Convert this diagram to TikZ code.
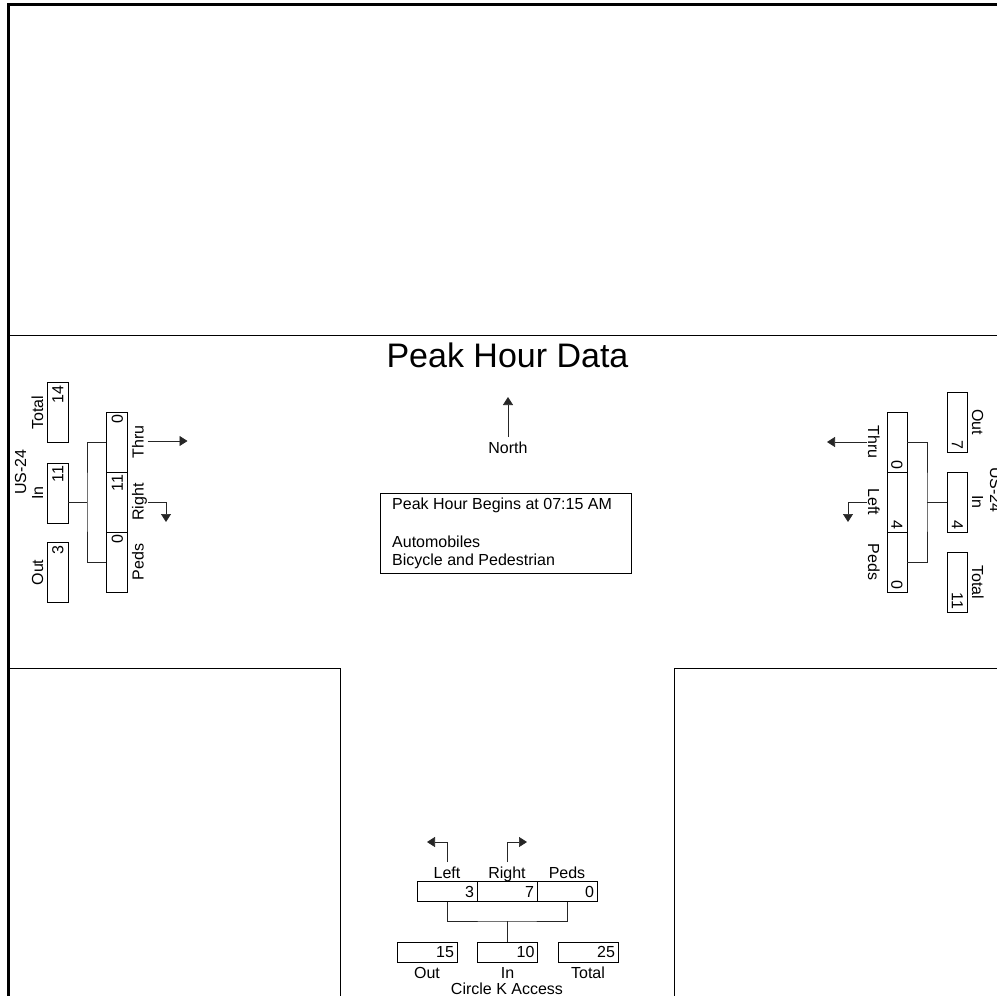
\documentclass[tikz,border=0pt]{standalone}
\usepackage{fontspec}
\setmainfont{Liberation Sans}
\usetikzlibrary{arrows.meta}
\tikzset{
  frame/.style={line width=2.7pt},
  road/.style={line width=0.9pt},
  conn/.style={line width=0.7pt, draw=black!85},
  arr/.style={conn, -{Triangle[width=10pt,length=8pt]}},
  cell/.style={draw, line width=0.7pt, inner sep=0pt, minimum width=60pt, minimum height=20pt,
    text width=54pt, align=right, font=\fontsize{16}{16}\selectfont, text height=11.5pt, text depth=0pt},
  lcell/.style={cell, rotate=90, minimum height=21pt},
  rcell/.style={cell, rotate=-90},
  lbl/.style={inner sep=0pt, anchor=base, font=\fontsize{16}{19}\selectfont},
  llbl/.style={lbl, rotate=90},
  rlbl/.style={lbl, rotate=-90},
}
\begin{document}
\begin{tikzpicture}[x=1pt,y=-1pt]
\useasboundingbox (0,0) rectangle (997,996);
% frame and road edges
\draw[frame] (8.7,996) -- (8.7,4.7) -- (997,4.7);
\draw[road] (8.7,335) -- (997,335);
\draw[road] (8.7,668) -- (340.5,668) -- (340.5,996);
\draw[road] (997,668) -- (674,668) -- (674,996);
% title and north arrow
\node[lbl, font=\fontsize{34}{34}\selectfont] (title) at (507.5,367) {Peak Hour Data};
\node[lbl] (north) at (508,453) {North};
\coordinate (nS) at (508,437);
\draw[arr] (nS) -- ++(0,-40);
% info box
\node[draw, line width=0.7pt, minimum width=251pt, minimum height=80pt, inner sep=0pt, anchor=north west] (info) at (380,493) {};
\node[lbl, anchor=base west] (info1) at (392,509) {Peak Hour Begins at 07:15 AM};
\node[lbl, anchor=base west] (info2) at (392,547) {Automobiles};
\node[lbl, anchor=base west] (info3) at (392,565) {Bicycle and Pedestrian};
% ---------------- left approach ----------------
\node[lcell] (lTot) at (57.5,412.5) {14};
\node[lcell] (lIn) at (57.5,493) {11};
\node[lcell] (lOut) at (57.5,572.5) {3};
\node[llbl] (lTotL) at (43,412.5) {Total};
\node[llbl] (lInL) at (43,493) {In};
\node[llbl] (lOutL) at (43,572.5) {Out};
\node[llbl] (lName) at (26,472) {US-24};
\node[lcell] (lThru) at (117,442) {0};
\node[lcell] (lRight) at (117,502) {11};
\node[lcell] (lPeds) at (117,562) {0};
\node[llbl] (lThruL) at (143.5,442) {Thru};
\node[llbl] (lRightL) at (143.5,502) {Right};
\node[llbl] (lPedsL) at (143.5,562) {Peds};
\coordinate (lmid) at (87,502);
\draw[conn] (lThru.north) -| (lmid) |- (lPeds.north);
\draw[conn] (lmid) -- (lmid -| lIn.south);
\coordinate (lThruA) at (147.5,441);
\coordinate (lRightA) at (148,502);
\draw[arr] (lThruA) -- ++(40,0);
\draw[arr] (lRightA) -| ++(18,20);
% ---------------- right approach ----------------
\node[rcell] (rOut) at (957.5,422) {7};
\node[rcell] (rIn) at (957.5,502) {4};
\node[rcell] (rTot) at (957.5,582) {11};
\node[rlbl] (rOutL) at (972,422) {Out};
\node[rlbl] (rInL) at (972,502) {In};
\node[rlbl] (rTotL) at (972,582) {Total};
\node[rlbl] (rName) at (990,490) {US-24};
\node[rcell] (rThru) at (897,442) {0};
\node[rcell] (rLeft) at (897,502) {4};
\node[rcell] (rPeds) at (897,562) {0};
\node[rlbl] (rThruL) at (868,442) {Thru};
\node[rlbl] (rLeftL) at (868,502) {Left};
\node[rlbl] (rPedsL) at (868,562) {Peds};
\coordinate (rmid) at (927,502);
\draw[conn] (rThru.north) -| (rmid) |- (rPeds.north);
\draw[conn] (rmid) -- (rmid -| rIn.south);
\coordinate (rThruA) at (867,442);
\coordinate (rLeftA) at (867,502);
\draw[arr] (rThruA) -- ++(-40,0);
\draw[arr] (rLeftA) -| ++(-19,20);
% ---------------- bottom approach ----------------
\node[cell, minimum height=19.5pt] (bL) at (447,891.5) {3};
\node[cell, minimum height=19.5pt] (bR) at (507,891.5) {7};
\node[cell, minimum height=19.5pt] (bP) at (567,891.5) {0};
\node[lbl] (bLL) at (447,878) {Left};
\node[lbl] (bRL) at (507,878) {Right};
\node[lbl] (bPL) at (567,878) {Peds};
\node[cell] (bOut) at (427,952) {15};
\node[cell] (bIn) at (507.5,952) {10};
\node[cell] (bTot) at (588,952) {25};
\node[lbl] (bOutL) at (427,978) {Out};
\node[lbl] (bInL) at (507.5,978) {In};
\node[lbl] (bTotL) at (588,978) {Total};
\node[lbl] (bName) at (507,994) {Circle K Access};
\coordinate (bmid) at (507,921);
\draw[conn] (bL.south) |- (bmid) -| (bP.south);
\draw[conn] (bmid) -- (bmid |- bIn.north);
\coordinate (bLA) at (447,862);
\coordinate (bRA) at (507,862);
\draw[arr] (bLA) |- ++(-20,-20);
\draw[arr] (bRA) |- ++(20,-20);
\end{tikzpicture}
\end{document}
